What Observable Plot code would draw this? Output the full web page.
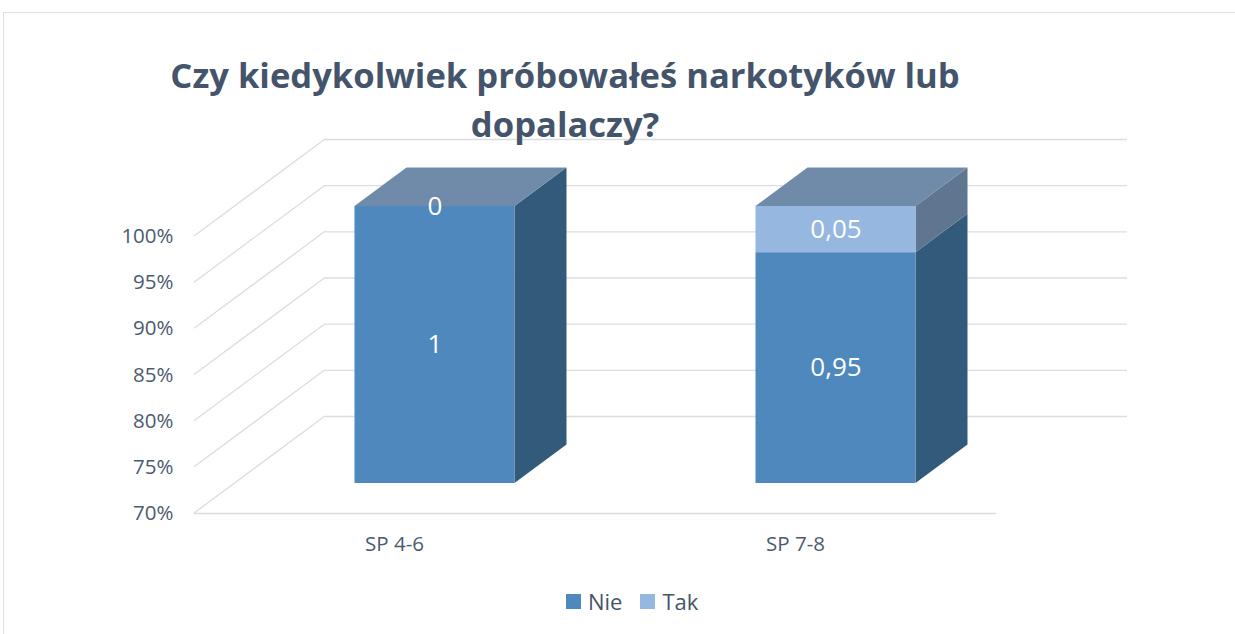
<!DOCTYPE html>
<html>
<head>
<meta charset="utf-8">
<script src="https://cdn.jsdelivr.net/npm/d3@7"></script>
<script src="https://cdn.jsdelivr.net/npm/@observablehq/plot@0.6"></script>
<style>
  html, body { margin: 0; padding: 0; background: #fff; overflow: hidden; }
  #page { position: relative; width: 1235px; height: 634px; overflow: hidden; font-family: "Open Sans", sans-serif; }
  #border { position: absolute; left: 3px; top: 12px; width: 1300px; height: 700px; border: 1.5px solid #dcdfe3; box-sizing: border-box; }
  #chart { position: absolute; left: 0; top: 0; }
  #title { position: absolute; left: 0; top: 50px; width: 1130px; text-align: center; font-weight: 700; font-size: 34.6px; line-height: 49px; color: #44546a; }
  #legend { position: absolute; left: 566px; top: 585px; display: flex; align-items: center; font-size: 22px; color: #44546a; line-height: 32px; }
  #legend .sw { width: 15px; height: 15px; display: inline-block; margin-right: 7px; }
  #legend .item { display: flex; align-items: center; margin-right: 18px; }
</style>
</head>
<body>
<div id="page">
  <div id="border"></div>
  <div id="chart"></div>
  <div id="title">Czy kiedykolwiek próbowałeś narkotyków lub<br>dopalaczy?</div>
  <div id="legend"></div>
</div>
<script>
// ---- data ----
const categories = ["SP 4-6", "SP 7-8"];
const series = ["Nie", "Tak"];
const nieValues = [1, 0.95];
const takValues = [0, 0.05];
const yTicks = [0.7, 0.75, 0.8, 0.85, 0.9, 0.95, 1.0];
const yDomain = [0.7, 1.0];

// ---- styles ----
const frontColors = {Nie: "#4f88bd", Tak: "#95b7e0"};
const sideColors = {Nie: "#325a7b", Tak: "#5f7590"};
const topColor = "#708ba9";
const gridColor = "#d9dde3";
const textColor = "#4d5a6e";

// oblique projection offsets (pixels)
const WALL_DX = 131, WALL_DY = -97;   // floor depth
const BAR_DX = 40.5, BAR_DY = -30;    // bar front face position within depth
const DEPTH_DX = 52, DEPTH_DY = -38.5; // bar depth

// ---- table ----
const valuesBySeries = {Nie: nieValues, Tak: takValues};
const rows = [];
categories.forEach((cat, i) => {
  let start = 0;
  series.forEach((s) => {
    const v = valuesBySeries[s][i];
    rows.push({cat, series: s, value: v, y1: Math.max(start, yDomain[0]), y2: start + v});
    start += v;
  });
});
const fmt = (v) => String(v).replace(".", ",");

const W = 1235, H = 634;
const marginLeft = 194, marginRight = W - 996, marginTop = 236, marginBottom = H - 513;

function walls(index, scales, values, dims) {
  const {y} = scales;
  const g = d3.create("svg:g").attr("stroke", gridColor).attr("stroke-width", 1.3).attr("fill", "none");
  for (const t of yTicks) {
    g.append("line")
      .attr("x1", marginLeft).attr("y1", y(t))
      .attr("x2", marginLeft + WALL_DX).attr("y2", y(t) + WALL_DY);
  }
  return g.node();
}

function bars3d(index, scales) {
  const {x, y} = scales;
  const bw = typeof x.bandwidth === "function" ? x.bandwidth() : x.bandwidth;
  const g = d3.create("svg:g");
  const poly = (pts, fill) => g.append("polygon").attr("points", pts.map(p => p.join(",")).join(" ")).attr("fill", fill);
  for (const cat of categories) {
    const segs = rows.filter(r => r.cat === cat);
    const xl = x(cat) + BAR_DX, xr = xl + bw;
    for (const r of segs) {
      if (r.y2 > r.y1) {
        const yt = y(r.y2) + BAR_DY, yb = y(r.y1) + BAR_DY;
        poly([[xr, yt], [xr + DEPTH_DX, yt + DEPTH_DY], [xr + DEPTH_DX, yb + DEPTH_DY], [xr, yb]], sideColors[r.series]);
      }
    }
    const top = segs[segs.length - 1];
    const yt = y(top.y2) + BAR_DY;
    poly([[xl, yt], [xl + DEPTH_DX, yt + DEPTH_DY], [xr + DEPTH_DX, yt + DEPTH_DY], [xr, yt]], topColor);
  }
  return g.node();
}

const chart = Plot.plot({
  width: W,
  height: H,
  marginLeft, marginRight, marginTop, marginBottom,
  style: {fontFamily: "Open Sans", fontSize: "20.5px", color: textColor, background: "transparent", overflow: "visible"},
  x: {domain: categories, paddingInner: 0.6, paddingOuter: 0.3, tickSize: 0, tickPadding: 23, label: null},
  y: {domain: yDomain, ticks: 7, tickSize: 0, tickPadding: 21, tickFormat: d => Math.round(d * 100) + "%", label: null},
  color: {domain: series, range: series.map(s => frontColors[s])},
  marks: [
    Plot.ruleY(yTicks, {stroke: gridColor, strokeWidth: 1.3, dx: WALL_DX, dy: WALL_DY}),
    Plot.ruleY([yDomain[0]], {stroke: gridColor, strokeWidth: 1.3}),
    walls,
    bars3d,
    Plot.barY(rows, {x: "cat", y1: "y1", y2: "y2", fill: "series", dx: BAR_DX, dy: BAR_DY}),
    Plot.text(rows, {x: "cat", y: d => (d.y1 + d.y2) / 2, text: d => fmt(d.value), fill: "white", fontSize: 26, dx: BAR_DX, dy: BAR_DY})
  ]
});
document.getElementById("chart").appendChild(chart);

// legend
const legend = document.getElementById("legend");
series.forEach(s => {
  const item = document.createElement("span");
  item.className = "item";
  const sw = document.createElement("span");
  sw.className = "sw";
  sw.style.background = frontColors[s];
  item.appendChild(sw);
  item.appendChild(document.createTextNode(s));
  legend.appendChild(item);
});
</script>
</body>
</html>
